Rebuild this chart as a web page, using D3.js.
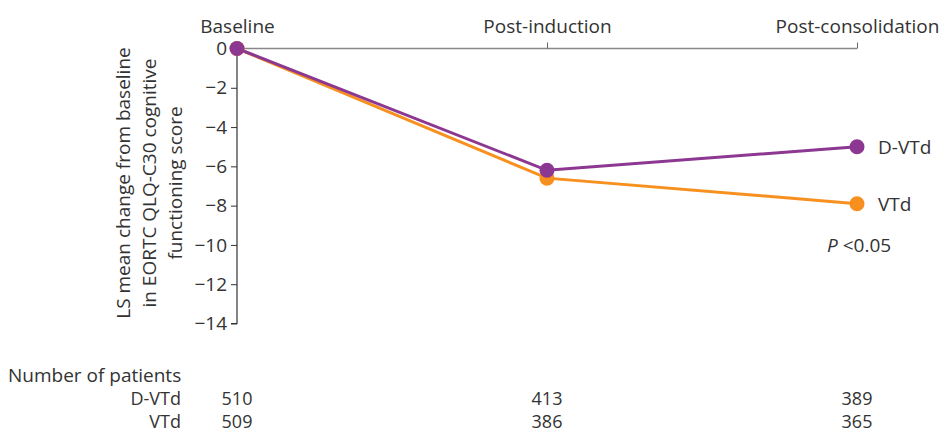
<!DOCTYPE html>
<html><head><meta charset="utf-8">
<script src="https://cdn.jsdelivr.net/npm/d3@7"></script>
<style>body{margin:0;background:#fff}text{font-family:"Open Sans",sans-serif;fill:#333}</style>
</head><body>
<svg id="c" width="943" height="433"></svg>
<script>
const timepoints = ["Baseline", "Post-induction", "Post-consolidation"];
const seriesNames = ["VTd", "D-VTd"];
const vtdValues = [0, -6.6, -7.9];
const dvtdValues = [0, -6.2, -5.0];
const yTicks = [0, -2, -4, -6, -8, -10, -12, -14];
const nDVTd = [510, 413, 389];
const nVTd = [509, 386, 365];
const colors = {"VTd": "#f7901e", "D-VTd": "#8c3791"};
const FS = 19;
const TFS = 18;

const svg = d3.select("#c");
const x = d3.scalePoint().domain(timepoints).range([237, 857]);
const y = d3.scaleLinear().domain([0, -14]).range([48.5, 323.5]);

// top axis
const topAxis = svg.append("g").attr("transform", "translate(0,48.5)")
  .call(d3.axisTop(x).tickSize(6).tickPadding(10));
topAxis.select(".domain").attr("stroke", "#888").attr("stroke-width", 1.3).attr("d", `M${x.range()[0]},0H${x.range()[1]}`);
topAxis.selectAll(".tick line").attr("stroke", "#666");
topAxis.selectAll(".tick").filter(d => d === "Baseline").select("line").remove();
topAxis.selectAll(".tick text").attr("font-size", FS).attr("fill", "#333").attr("font-family", "Open Sans");

// left axis
const leftAxis = svg.append("g").attr("transform", "translate(237,0)")
  .call(d3.axisLeft(y).tickValues(yTicks).tickSize(6).tickPadding(4)
    .tickFormat(d => d < 0 ? "\u2212" + Math.abs(d) : d));
leftAxis.select(".domain").attr("stroke", "#333").attr("stroke-width", 1.2).attr("d", `M0,${y(0)}V${y(-14)}H-6`);
leftAxis.selectAll(".tick line").attr("stroke", "#333");
leftAxis.selectAll(".tick text").attr("font-size", FS).attr("fill", "#333").attr("font-family", "Open Sans");

// y label
const yl = svg.append("text").attr("transform", "translate(130,183) rotate(-90)")
  .attr("text-anchor", "middle").attr("font-size", FS);
["LS mean change from baseline", "in EORTC QLQ-C30 cognitive", "functioning score"].forEach((t, i) => {
  yl.append("tspan").attr("x", 0).attr("dy", i === 0 ? "0" : "1.37em").text(t);
});

// series
const series = [{name: "VTd", values: vtdValues}, {name: "D-VTd", values: dvtdValues}];
const line = d3.line().x((d, i) => x(timepoints[i])).y(d => y(d));
series.forEach(s => {
  svg.append("path").attr("d", line(s.values)).attr("fill", "none")
    .attr("stroke", colors[s.name]).attr("stroke-width", 3);
});
series.forEach(s => {
  svg.selectAll(null).data(s.values).enter().append("circle")
    .attr("cx", (d, i) => x(timepoints[i])).attr("cy", d => y(d)).attr("r", 7.5)
    .attr("fill", colors[s.name]);
  const last = s.values[s.values.length - 1];
  svg.append("text").attr("x", x(timepoints[2]) + 21).attr("y", y(last))
    .attr("dy", "0.36em").attr("font-size", FS).text(s.name);
});

// p value
const p = svg.append("text").attr("x", 827).attr("y", 252).attr("font-size", FS);
p.append("tspan").attr("font-style", "italic").text("P");
p.append("tspan").text(" <0.05");

// table
svg.append("text").attr("x", 8).attr("y", 382).attr("font-size", FS).text("Number of patients");
[["D-VTd", nDVTd, 405], ["VTd", nVTd, 428]].forEach(([name, vals, yy]) => {
  svg.append("text").attr("x", 181).attr("y", yy).attr("text-anchor", "end").attr("font-size", TFS).text(name);
  vals.forEach((v, i) => {
    svg.append("text").attr("x", x(timepoints[i])).attr("y", yy).attr("text-anchor", "middle").attr("font-size", TFS).text(v);
  });
});
</script>
</body></html>
